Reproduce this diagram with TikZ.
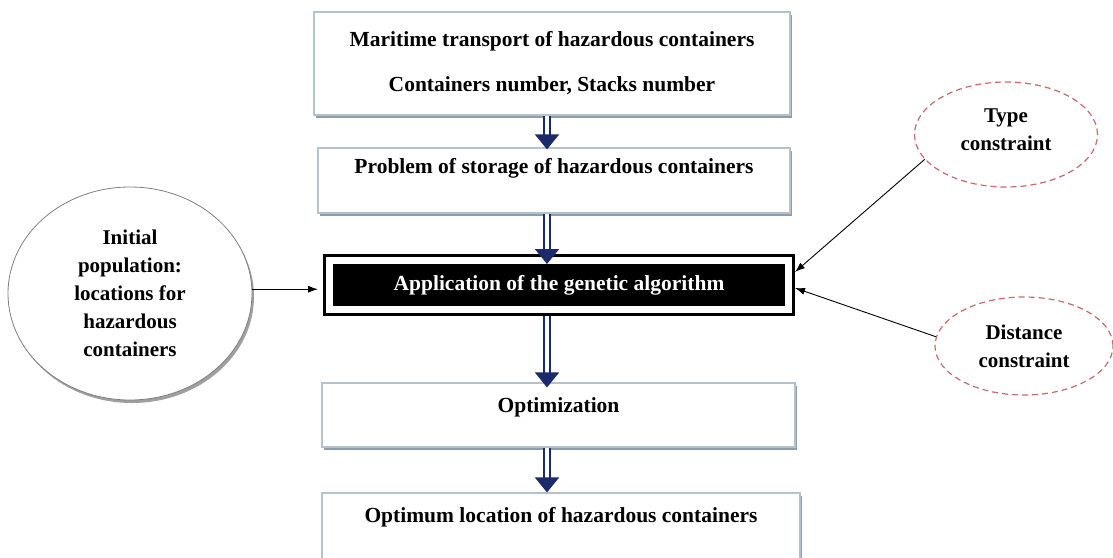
\documentclass[tikz,border=0pt]{standalone}
\usepackage{fontspec}
\setmainfont{Liberation Serif}
\usetikzlibrary{arrows.meta,shapes.geometric,shadows,positioning}
\definecolor{boxline}{HTML}{B4C2CC}
\definecolor{boxshade}{HTML}{8C9EAB}
\definecolor{navyblue}{HTML}{1B2A6B}
\definecolor{dashred}{HTML}{C8696C}
\tikzset{
mybox/.style={
  draw=boxline,
  line width=1.2pt,
  fill=white,
  drop shadow={shadow xshift=2pt,shadow yshift=-3pt,fill=boxshade,opacity=1},
  font=\bfseries\fontsize{21.5}{25}\selectfont,
  inner ysep=0pt
  },
toprow/.style 2 args={
  text height=#1,
  text depth=#2
  },
algbox/.style={
  draw=black,
  line width=3pt,
  double=white,
  double distance=7pt,
  fill=black,
  text=white,
  outer sep=6.5pt,
  font=\bfseries\fontsize{21.5}{25}\selectfont
  },
initell/.style={
  ellipse,
  draw=gray,
  line width=0.8pt,
  fill=white,
  drop shadow={shadow xshift=2pt,shadow yshift=-3pt,fill=gray!75,opacity=1},
  inner sep=0pt,
  align=center,
  font=\bfseries\fontsize{21}{28}\selectfont
  },
conell/.style={
  ellipse,
  draw=dashred,
  line width=1.2pt,
  dash pattern=on 6pt off 4pt,
  inner sep=0pt,
  align=center,
  font=\bfseries\fontsize{21}{28}\selectfont
  },
bigarrow/.style={
  draw=navyblue,
  line width=2pt,
  double=white,
  double distance=4pt,
  -{Triangle[length=15pt,width=24pt]}
  },
thinarrow/.style={
  draw=black,
  line width=0.9pt,
  -{Latex[length=10pt,width=7pt]}
  }
}

\begin{document}
\begin{tikzpicture}[x=1pt,y=-1pt]
\useasboundingbox (0,0) rectangle (1113,557);
\fill[white] (0,0) rectangle (1113,557);

\node[mybox,align=center,minimum width=476pt,minimum height=103pt]
  (box1) at (552,63.5)
  {Maritime transport of hazardous containers\\[20pt]Containers number, Stacks number};
\node[mybox,toprow={25pt}{40pt},minimum width=472pt,minimum height=65pt]
  (box2) at (554,180.5) {Problem of storage of hazardous containers};
\node[algbox,minimum width=459pt,minimum height=49pt]
  (alg) at (559,285) {Application of the genetic algorithm};
\node[mybox,toprow={29pt}{35pt},minimum width=473pt,minimum height=64pt]
  (box4) at (558.5,415) {Optimization};
\node[mybox,toprow={29pt}{37pt},minimum width=478pt,minimum height=66pt]
  (box5) at (561,526) {Optimum location of hazardous containers};

\node[initell,minimum width=244pt,minimum height=213pt]
  (init) at (130,293.5)
  {Initial\\population:\\locations for\\hazardous\\containers};
\node[conell,minimum width=183pt,minimum height=105pt]
  (type) at (1006,134.5) {Type\\constraint\\[-18pt]};
\node[conell,minimum width=178pt,minimum height=98pt]
  (dist) at (1024,346) {Distance\\constraint};

\begin{scope}
\coordinate (axis) at (547,0);
\draw[bigarrow,shorten >=-2pt] (box1.south -| axis) -- (box2.north -| axis);
\draw[bigarrow,shorten >=-10pt] (box2.south -| axis) -- (alg.north -| axis);
\draw[bigarrow,shorten >=-5pt] (alg.south -| axis) -- (box4.north -| axis);
\draw[bigarrow] (box4.south -| axis) -- (box5.north -| axis);
\end{scope}

\begin{scope}
\draw[thinarrow,shorten >=5pt] (init.2) -- (init.2 -| alg.west);
\draw[thinarrow] (type.197) -- ([yshift=13pt]alg.east);
\draw[thinarrow] (dist.174) -- ([yshift=-3pt]alg.east);
\end{scope}

\end{tikzpicture}
\end{document}
